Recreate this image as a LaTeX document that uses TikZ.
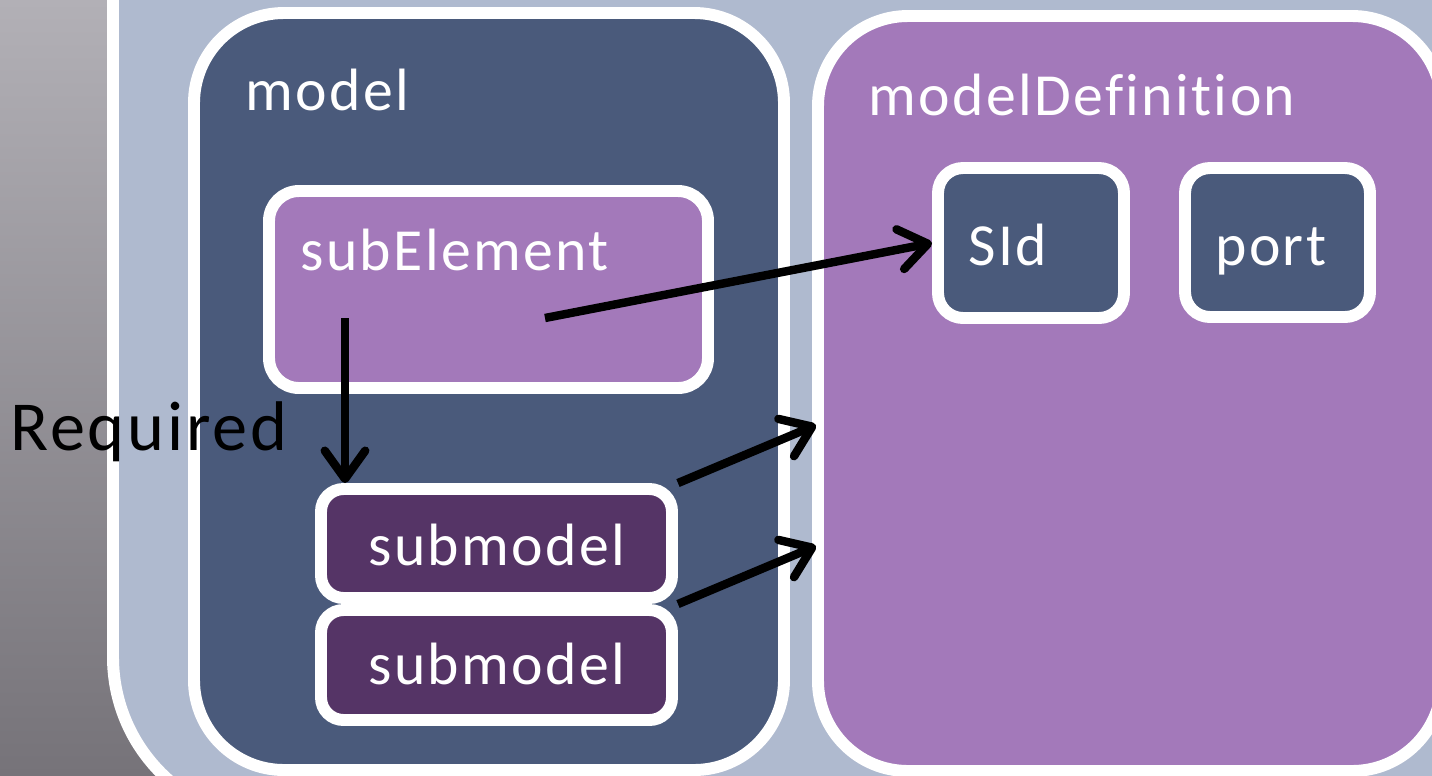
\documentclass[tikz,border=0pt]{standalone}
\usepackage{fontspec}
\setmainfont{Carlito}
\newfontfamily\lblfont[LetterSpace=4, Ligatures={NoCommon,NoRequired}, RawFeature=-liga]{Carlito}
\usetikzlibrary{arrows.meta,fit}

\definecolor{bgtop}{RGB}{178,176,182}
\definecolor{bgbot}{RGB}{118,115,121}
\definecolor{panelblue}{RGB}{175,186,207}
\definecolor{darkblue}{RGB}{74,90,123}
\definecolor{lilac}{RGB}{163,121,186}
\definecolor{plum}{RGB}{85,52,102}

\tikzset{
  box/.style={draw=white, line width=6.8pt, inner sep=0pt},
  lbl/.style={anchor=base west, text=white, inner sep=0pt,
    font=\lblfont\fontsize{34}{40}\selectfont},
  arr/.style={line width=4.8pt, -{Straight Barb[length=16pt,width=23pt,round]}}
}

\begin{document}
\begin{tikzpicture}[x=0.02cm, y=-0.02cm]
            \useasboundingbox (0,0) rectangle (1432,775);
            \clip (0,0) rectangle (1432,775);

            % 背景
            \shade[top color=bgtop, bottom color=bgbot] (0,0) rectangle (1432,775);
            \draw[white, line width=6.8pt, fill=panelblue, rounded corners=3.28cm]
                (113,-200) rectangle (1700,821);

            % 定义外框
            \node[box, fill=darkblue, rounded corners=1.8cm, fit={(194,13) (784,770)}] (model) {};
            \node[box, fill=lilac, rounded corners=1.8cm, fit={(818,16) (1442,771)}] (mdef) {};

            % 定义内框
            \node[box, fill=lilac, rounded corners=0.6cm, fit={(269,191) (708,388)}] (subel) {};
            \node[box, fill=darkblue, rounded corners=0.5cm, fit={(938,168) (1124,318)}] (sid) {};
            \node[box, fill=darkblue, rounded corners=0.5cm, fit={(1185,168) (1370,317)}] (port) {};
            \node[box, fill=plum, rounded corners=0.45cm, fit={(321,489) (672,598)}] (sub1) {};
            \node[box, fill=plum, rounded corners=0.45cm, fit={(321,610) (672,720)}] (sub2) {};

            % 标签
            \node[lbl] (modeltxt) at (245,110) {model};
            \node[lbl] (mdeftxt) at (868,115) {modelDefinition};
            \node[lbl] (subeltxt) at (300,270) {subElement};
            \node[lbl] (sidtxt) at (968,265) {SId};
            \node[lbl] (porttxt) at (1215,265) {port};
            \node[lbl, anchor=base] (sub1txt) at (497,565) {submodel};
            \node[lbl, anchor=base] (sub2txt) at (497,684) {submodel};
            \node[lbl, text=black, font=\lblfont\fontsize{40}{46}\selectfont] (req) at (10,450) {Required};

            % 箭头端点
            \coordinate (srcA) at (345,318);
            \coordinate (srcB) at (545,318);
            \coordinate (in1) at (816,425);
            \coordinate (in2) at (816,546);

            % 绘制箭头
            \draw[arr] (srcA) -- (srcA |- sub1.north);
            \draw[arr] (srcB) -- (sid.west);
            \draw[arr] (sub1.north east) -- (in1);
            \draw[arr] (sub2.north east) -- (in2);
        \end{tikzpicture}
\end{document}
